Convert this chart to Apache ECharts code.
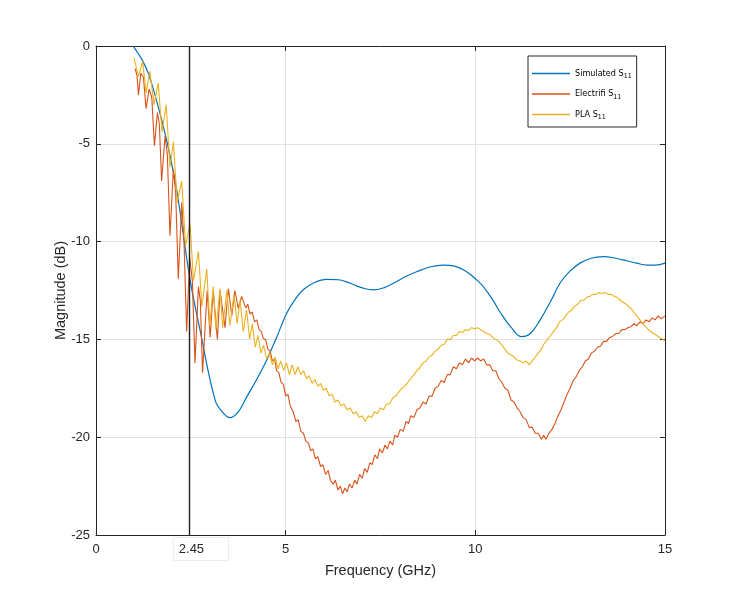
<!DOCTYPE html>
<html>
<head>
<meta charset="utf-8">
<script src="https://cdn.jsdelivr.net/npm/echarts@6/dist/echarts.min.js"></script>
<style>
html,body{margin:0;padding:0;background:#fff;}
#chart{width:736px;height:601px;}
</style>
</head>
<body>
<div id="chart"></div>
<script>
// ---- data (frequency in GHz, magnitude in dB) ----
var xTicks = [0, 5, 10, 15];
var yTicks = [0, -5, -10, -15, -20, -25];
var markerFreq = 2.45;
var seriesNames = ['Simulated', 'Electrifi', 'PLA'];

var simulatedS11 = [
[0.98,0],[1.03,-0.15],[1.2,-0.65],[1.38,-1.4],[1.64,-3.1],[1.86,-4.8],[2.08,-6.85],[2.21,-8.4],
[2.48,-11.96],[2.74,-14.5],[3.14,-18.1],[3.35,-18.75],[3.53,-19.0],[3.75,-18.7],[3.97,-17.95],
[4.25,-17.0],[4.5,-16.05],[4.75,-14.95],[5.03,-13.65],[5.25,-12.95],[5.47,-12.45],[5.75,-12.1],
[6.08,-11.93],[6.4,-11.95],[6.7,-12.13],[7.0,-12.35],[7.31,-12.47],[7.6,-12.35],[7.84,-12.13],
[8.15,-11.8],[8.45,-11.54],[8.8,-11.3],[9.16,-11.2],[9.45,-11.25],[9.77,-11.54],[10.0,-11.9],
[10.21,-12.3],[10.45,-12.95],[10.65,-13.6],[10.95,-14.4],[11.22,-14.86],[11.45,-14.7],[11.71,-14.0],
[12.0,-13.0],[12.23,-12.13],[12.5,-11.5],[12.76,-11.1],[13.05,-10.85],[13.37,-10.77],[13.7,-10.85],
[13.99,-10.98],[14.25,-11.1],[14.52,-11.2],[14.75,-11.2],[15.0,-11.1]
];

var electrifiS11 = [
[1.03,-1.15],[1.08,-1.5],[1.12,-2.5],[1.18,-1.4],[1.25,-1.6],[1.32,-3.2],[1.40,-2.2],[1.47,-2.6],
[1.54,-5.1],[1.62,-3.4],[1.67,-4.0],[1.73,-6.9],[1.82,-4.6],[1.88,-5.5],[1.95,-9.7],[2.04,-6.3],
[2.10,-7.5],[2.17,-11.9],[2.26,-8.0],[2.32,-10.0],[2.39,-14.6],[2.47,-10.8],[2.54,-12.0],[2.61,-16.2],
[2.70,-12.3],[2.75,-13.0],[2.81,-16.7],[2.93,-12.5],[3.01,-14.9],[3.09,-12.5],[3.20,-15.0],[3.27,-12.5],
[3.40,-14.4],[3.49,-12.4],[3.58,-13.8],[3.66,-12.5],[3.75,-13.4],[3.84,-12.8],[3.88,-12.9],[3.95,-13.4],
[4.0,-13.2],[4.06,-13.7],[4.12,-13.6],[4.18,-14.1],[4.24,-14.0],[4.3,-14.5],[4.36,-14.6],[4.41,-14.95],
[4.47,-15.0],[4.53,-15.5],[4.59,-15.6],[4.65,-16.1],[4.71,-16.0],[4.76,-16.6],[4.82,-16.7],[4.88,-17.2],
[4.94,-17.3],[5.0,-17.9],[5.06,-17.8],[5.12,-18.4],[5.2,-18.7],[5.27,-19.2],[5.33,-19.1],[5.4,-19.7],
[5.47,-19.8],[5.53,-20.2],[5.6,-20.3],[5.66,-20.7],[5.72,-20.6],[5.78,-21.1],[5.85,-21.0],[5.92,-21.5],
[5.98,-21.4],[6.05,-21.9],[6.12,-21.7],[6.18,-22.2],[6.25,-22.4],[6.31,-22.2],[6.38,-22.7],[6.44,-22.5],
[6.5,-22.9],[6.56,-22.6],[6.62,-22.8],[6.68,-22.4],[6.75,-22.6],[6.82,-22.2],[6.88,-22.4],[6.95,-21.9],
[7.02,-22.1],[7.08,-21.6],[7.15,-21.8],[7.22,-21.3],[7.28,-21.4],[7.35,-20.9],[7.42,-21.1],[7.48,-20.6],
[7.55,-20.8],[7.62,-20.4],[7.68,-20.6],[7.75,-20.2],[7.82,-20.4],[7.88,-19.9],[7.95,-20.0],[8.02,-19.6],
[8.1,-19.7],[8.17,-19.2],[8.24,-19.3],[8.3,-18.9],[8.38,-19.0],[8.46,-18.6],[8.54,-18.5],[8.62,-18.2],
[8.7,-18.3],[8.78,-17.9],[8.86,-17.9],[8.94,-17.5],[9.02,-17.4],[9.1,-17.1],[9.18,-17.2],[9.26,-16.8],
[9.34,-16.8],[9.42,-16.4],[9.5,-16.5],[9.58,-16.2],[9.66,-16.3],[9.74,-16.0],[9.82,-16.2],[9.9,-15.95],
[9.98,-16.1],[10.06,-15.95],[10.14,-16.1],[10.22,-16.0],[10.3,-16.3],[10.38,-16.3],[10.46,-16.6],
[10.54,-16.6],[10.62,-17.0],[10.7,-17.2],[10.78,-17.5],[10.86,-17.6],[10.94,-18.1],[11.02,-18.2],
[11.1,-18.5],[11.18,-18.7],[11.26,-19.0],[11.34,-19.1],[11.42,-19.5],[11.5,-19.5],[11.58,-19.8],
[11.66,-19.8],[11.74,-20.1],[11.8,-19.9],[11.86,-20.1],[11.94,-19.8],[12.02,-19.6],[12.1,-19.3],
[12.18,-18.9],[12.26,-18.6],[12.34,-18.2],[12.42,-17.8],[12.5,-17.5],[12.58,-17.1],[12.66,-16.9],
[12.74,-16.6],[12.82,-16.4],[12.9,-16.1],[12.98,-16.0],[13.06,-15.7],[13.14,-15.6],[13.22,-15.4],
[13.3,-15.35],[13.38,-15.1],[13.46,-15.1],[13.54,-14.9],[13.62,-14.85],[13.7,-14.7],[13.78,-14.7],
[13.86,-14.5],[13.94,-14.5],[14.02,-14.4],[14.1,-14.35],[14.18,-14.2],[14.26,-14.3],[14.34,-14.1],
[14.42,-14.2],[14.5,-14.0],[14.58,-14.1],[14.66,-13.9],[14.74,-14.0],[14.82,-13.8],[14.9,-13.95],[15.0,-13.8]
];

var plaS11 = [
[1.00,-0.6],[1.03,-0.55],[1.12,-1.55],[1.23,-0.8],[1.32,-2.4],[1.42,-1.3],[1.53,-3.0],[1.64,-1.9],
[1.74,-4.4],[1.85,-3.0],[1.95,-6.2],[2.04,-4.9],[2.14,-8.0],[2.26,-6.9],[2.36,-10.2],[2.48,-9.1],
[2.57,-12.0],[2.70,-10.5],[2.79,-13.3],[2.92,-11.4],[3.0,-14.3],[3.09,-12.3],[3.16,-14.5],[3.27,-12.4],
[3.34,-14.4],[3.45,-12.5],[3.53,-14.3],[3.64,-12.7],[3.72,-14.2],[3.80,-13.0],[3.88,-14.6],[3.97,-13.5],
[4.05,-15.0],[4.12,-14.2],[4.2,-15.4],[4.27,-14.8],[4.35,-15.7],[4.42,-15.3],[4.5,-16.0],[4.57,-15.7],
[4.65,-16.3],[4.72,-15.9],[4.8,-16.5],[4.87,-16.1],[4.95,-16.6],[5.02,-16.2],[5.1,-16.8],[5.17,-16.3],
[5.25,-16.8],[5.32,-16.4],[5.4,-16.8],[5.47,-16.6],[5.55,-17.0],[5.62,-16.85],[5.7,-17.25],[5.77,-17.05],
[5.85,-17.4],[5.92,-17.25],[6.0,-17.6],[6.07,-17.5],[6.15,-17.9],[6.22,-17.8],[6.3,-18.2],[6.38,-18.1],
[6.46,-18.4],[6.54,-18.3],[6.62,-18.6],[6.7,-18.5],[6.78,-18.8],[6.86,-18.7],[6.94,-19.0],[7.02,-18.9],
[7.1,-19.2],[7.18,-18.9],[7.26,-19.0],[7.34,-18.7],[7.42,-18.8],[7.5,-18.5],[7.58,-18.6],[7.66,-18.3],
[7.74,-18.3],[7.82,-18.0],[7.9,-17.9],[7.98,-17.7],[8.06,-17.5],[8.14,-17.4],[8.22,-17.2],[8.3,-17.0],
[8.38,-16.8],[8.46,-16.6],[8.54,-16.45],[8.62,-16.2],[8.7,-16.1],[8.78,-15.9],[8.86,-15.8],[8.94,-15.6],
[9.02,-15.5],[9.1,-15.3],[9.18,-15.25],[9.26,-15.0],[9.34,-15.0],[9.42,-14.8],[9.5,-14.8],[9.58,-14.6],
[9.66,-14.65],[9.74,-14.5],[9.82,-14.55],[9.9,-14.4],[9.98,-14.45],[10.06,-14.4],[10.14,-14.5],
[10.22,-14.6],[10.3,-14.7],[10.38,-14.75],[10.46,-14.9],[10.54,-15.0],[10.62,-15.1],[10.7,-15.3],
[10.78,-15.5],[10.86,-15.7],[10.94,-15.8],[11.02,-15.9],[11.1,-16.05],[11.18,-16.1],[11.26,-16.2],
[11.34,-16.1],[11.42,-16.3],[11.5,-16.1],[11.58,-15.9],[11.66,-15.7],[11.74,-15.5],[11.82,-15.2],
[11.9,-15.0],[11.98,-14.8],[12.06,-14.6],[12.14,-14.4],[12.22,-14.1],[12.3,-14.0],[12.38,-13.8],
[12.46,-13.6],[12.54,-13.5],[12.62,-13.3],[12.7,-13.2],[12.78,-13.0],[12.86,-13.0],[12.94,-12.85],
[13.02,-12.8],[13.1,-12.7],[13.18,-12.7],[13.26,-12.6],[13.34,-12.65],[13.42,-12.6],[13.5,-12.7],
[13.58,-12.7],[13.66,-12.8],[13.74,-12.85],[13.82,-13.0],[13.9,-13.1],[13.98,-13.2],[14.06,-13.35],
[14.14,-13.5],[14.22,-13.7],[14.3,-13.9],[14.38,-14.1],[14.46,-14.3],[14.54,-14.45],[14.62,-14.6],
[14.7,-14.7],[14.78,-14.8],[14.86,-14.9],[14.94,-15.0],[15.0,-15.05]
];

var colors = ['#0072BD', '#D95319', '#EDB120'];
var FONT = '"Liberation Sans", Arial, Helvetica, sans-serif';
var LEGFONT = '"Liberation Sans Narrow", "Arial Narrow", "DejaVu Sans Condensed", "Liberation Sans", sans-serif';
var TXT = '#262626';

var chart = echarts.init(document.getElementById('chart'), null, {renderer: 'canvas'});

function axisCommon(extra) {
  var base = {
    axisLine: {show: true, onZero: false, lineStyle: {color: TXT, width: 1}},
    axisTick: {show: true, inside: true, length: 5, lineStyle: {color: TXT}},
    splitLine: {show: false},
    axisLabel: {show: false}
  };
  for (var k in extra) base[k] = extra[k];
  return base;
}

var option = {
  animation: false,
  backgroundColor: '#fff',
  color: colors,
  grid: {left: 96, right: 71, top: 46, bottom: 66, containLabel: false},
  legend: {
    orient: 'vertical',
    left: 528, top: 56,
    data: seriesNames,
    icon: 'rect',
    backgroundColor: '#fff',
    borderColor: TXT, borderWidth: 1,
    padding: [13, 5, 6, 4],
    itemWidth: 38, itemHeight: 1.5, itemGap: 9.5,
    itemStyle: {borderWidth: 0},
    formatter: function (name) { return '{t|' + name + ' S}{s|11}'; },
    textStyle: {
      fontFamily: LEGFONT, color: '#000',
      rich: {
        t: {fontFamily: LEGFONT, fontSize: 9, color: '#000', lineHeight: 12},
        s: {fontFamily: LEGFONT, fontSize: 7, color: '#000', padding: [6, 0, 0, 0]}
      }
    }
  },
  xAxis: [
    axisCommon({
      type: 'value', min: 0, max: 15, interval: 5, position: 'bottom',
      name: 'Frequency (GHz)', nameLocation: 'middle', nameGap: 28, nameMoveOverlap: false,
      nameTextStyle: {fontFamily: FONT, fontSize: 14.5, color: TXT},
      axisLabel: {show: true, fontFamily: FONT, fontSize: 13, color: TXT, margin: 8},
      splitLine: {show: true, lineStyle: {color: '#e2e2e2', width: 1}}
    }),
    axisCommon({type: 'value', min: 0, max: 15, interval: 5, position: 'top'})
  ],
  yAxis: [
    axisCommon({
      type: 'value', min: -25, max: 0, interval: 5, position: 'left',
      name: 'Magnitude (dB)', nameLocation: 'middle', nameGap: 28, nameMoveOverlap: false,
      nameTextStyle: {fontFamily: FONT, fontSize: 14.5, color: TXT},
      axisLabel: {show: true, fontFamily: FONT, fontSize: 13, color: TXT, margin: 6},
      splitLine: {show: true, lineStyle: {color: '#e2e2e2', width: 1}}
    }),
    axisCommon({type: 'value', min: -25, max: 0, interval: 5, position: 'right'})
  ],
  series: [
    {name: seriesNames[0], type: 'line', data: simulatedS11, symbol: 'none', smooth: 0.4,
     itemStyle: {color: colors[0]},
     lineStyle: {width: 1.2, color: colors[0]}, z: 2},
    {name: seriesNames[1], type: 'line', data: electrifiS11, symbol: 'none',
     itemStyle: {color: colors[1]},
     lineStyle: {width: 1.1, color: colors[1]}, z: 3},
    {name: seriesNames[2], type: 'line', data: plaS11, symbol: 'none',
     itemStyle: {color: colors[2]},
     lineStyle: {width: 1.1, color: colors[2]}, z: 4,
     markLine: {
       silent: true, symbol: 'none', animation: false,
       lineStyle: {type: 'solid', color: '#222', width: 1.4},
       label: {
         show: true, position: 'start', distance: 3,
         formatter: String(markerFreq),
         fontFamily: FONT, fontSize: 13, color: TXT,
         backgroundColor: '#fff', borderColor: '#ececec', borderWidth: 1,
         padding: [5, 24, 4, 5], offset: [12, 0]
       },
       data: [{xAxis: markerFreq}]
     }}
  ]
};
chart.setOption(option);
</script>
</body>
</html>
